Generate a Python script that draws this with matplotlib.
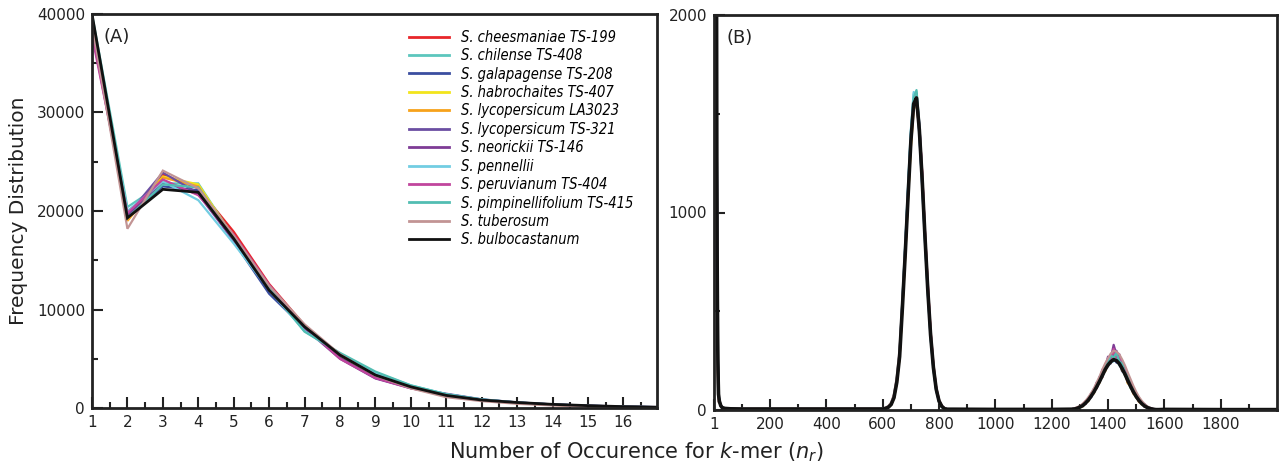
import matplotlib
matplotlib.use("Agg")
import matplotlib.pyplot as plt
from matplotlib.ticker import MultipleLocator, FixedLocator
import numpy as np

# ---------------- data ----------------
names = ["S. cheesmaniae TS-199", "S. chilense TS-408", "S. galapagense TS-208",
         "S. habrochaites TS-407", "S. lycopersicum LA3023", "S. lycopersicum TS-321",
         "S. neorickii TS-146", "S. pennellii", "S. peruvianum TS-404",
         "S. pimpinellifolium TS-415", "S. tuberosum", "S. bulbocastanum"]
colors = ["#e8262a", "#5cc6bd", "#3b4ea0", "#f2e51c", "#f7a21b", "#6b4ea2",
          "#7e3c96", "#72cde2", "#c1459d", "#52bdb2", "#c29494", "#111111"]

# Panel A: k-mer occurrence 1..17
a_x = [1, 2, 3, 4, 5, 6, 7, 8, 9, 10, 11, 12, 13, 14, 15, 16, 17]
a_red     = [39300, 19300, 23700, 22300, 17900, 12600, 8400, 5100, 3200, 2150, 1350, 830, 540, 340, 210, 120, 60]
a_chil    = [40000, 20400, 22800, 22800, 17300, 12300, 8100, 5500, 3500, 2250, 1400, 870, 560, 360, 230, 140, 80]
a_gala    = [39000, 19500, 22500, 22100, 16900, 11600, 8100, 5300, 3300, 2100, 1300, 800, 520, 330, 200, 120, 60]
a_habr    = [39600, 19100, 23500, 22700, 17300, 12100, 8300, 5400, 3300, 2100, 1300, 800, 520, 330, 210, 130, 70]
a_lyLA    = [39500, 19000, 23400, 22500, 17200, 12200, 8300, 5300, 3250, 2050, 1250, 780, 500, 320, 200, 120, 60]
a_lyTS    = [38500, 19600, 23900, 21800, 17100, 12100, 8200, 5100, 3050, 2050, 1450, 880, 570, 370, 240, 150, 90]
a_neor    = [38200, 19500, 22900, 21700, 17000, 12300, 8100, 5000, 3000, 2000, 1400, 850, 560, 360, 230, 140, 80]
a_penn    = [38800, 20000, 23000, 21100, 16700, 12000, 7800, 5500, 3600, 2300, 1400, 870, 560, 360, 230, 140, 80]
a_peru    = [37800, 19800, 23200, 21600, 17600, 12500, 8300, 5000, 3050, 2000, 1300, 820, 530, 340, 220, 130, 70]
a_pimp    = [39800, 19300, 22700, 22400, 17200, 12200, 7750, 5600, 3700, 2300, 1400, 860, 550, 350, 220, 130, 70]
a_tube    = [39000, 18200, 24100, 22300, 17500, 12400, 8500, 5450, 3300, 2000, 1100, 700, 430, 260, 150, 80, 40]
a_bulb    = [40000, 19300, 22200, 21900, 17200, 11950, 8250, 5380, 3350, 2150, 1280, 810, 560, 370, 240, 140, 80]

# Panel B: shared low-level segments
b_tail_x = [20, 25, 30, 40, 60, 100, 300, 500, 590]
b_tail_y = [45, 22, 12, 8, 6, 5, 5, 5, 5]
b_gap_x = [830, 850, 1000, 1200, 1270]
b_gap_y = [4, 4, 3, 3, 4]
b_end_x = [1580, 1600, 1800, 2000]
b_end_y = [2, 3, 2, 2]

# first peak (600..820 step 10)
p1_x = [600, 610, 620, 630, 640, 650, 660, 670, 680, 690, 700, 710, 720,
        730, 740, 750, 760, 770, 780, 790, 800, 810, 820]
p1_red  = [4, 10, 16, 32, 70, 150, 290, 540, 800, 1100, 1380, 1560, 1570, 1440, 1210, 900, 640, 400, 230, 110, 50, 20, 7]
p1_chil = [6, 9, 15, 30, 66, 146, 282, 548, 830, 1120, 1410, 1600, 1610, 1430, 1160, 870, 600, 372, 210, 100, 44, 17, 6]
p1_gala = [5, 9, 14, 29, 64, 144, 280, 540, 820, 1110, 1390, 1540, 1600, 1400, 1150, 880, 620, 390, 220, 108, 46, 19, 6]
p1_habr = [5, 8, 13, 27, 60, 138, 268, 515, 785, 1075, 1350, 1560, 1590, 1430, 1180, 890, 615, 385, 218, 106, 46, 18, 6]
p1_lyLA = [5, 8, 14, 28, 61, 139, 268, 520, 780, 1070, 1330, 1520, 1560, 1410, 1160, 875, 605, 378, 214, 104, 45, 18, 6]
p1_lyTS = [6, 10, 17, 33, 72, 155, 295, 555, 830, 1120, 1400, 1570, 1580, 1400, 1140, 860, 595, 370, 208, 100, 44, 17, 6]
p1_neor = [5, 9, 15, 30, 66, 148, 282, 530, 800, 1090, 1370, 1560, 1600, 1450, 1200, 900, 625, 392, 222, 108, 47, 19, 6]
p1_penn = [6, 11, 18, 35, 75, 160, 300, 565, 845, 1140, 1420, 1610, 1590, 1390, 1130, 850, 585, 362, 204, 98, 42, 16, 5]
p1_peru = [5, 8, 14, 28, 62, 140, 272, 525, 795, 1090, 1375, 1555, 1590, 1440, 1195, 905, 635, 398, 226, 110, 48, 19, 7]
p1_pimp = [6, 10, 16, 31, 68, 150, 288, 545, 815, 1110, 1390, 1580, 1620, 1450, 1190, 895, 620, 388, 220, 106, 46, 18, 6]
p1_tube = [7, 12, 20, 38, 80, 168, 310, 560, 825, 1100, 1360, 1530, 1550, 1420, 1190, 910, 650, 410, 236, 116, 52, 22, 8]
p1_bulb = [5, 8, 14, 28, 62, 140, 270, 520, 790, 1080, 1360, 1550, 1580, 1420, 1170, 880, 610, 380, 215, 105, 45, 18, 6]

# second peak (1280..1570 step 10)
p2_x = [1280, 1290, 1300, 1310, 1320, 1330, 1340, 1350, 1360, 1370, 1380, 1390, 1400, 1410, 1420,
        1430, 1440, 1450, 1460, 1470, 1480, 1490, 1500, 1510, 1520, 1530, 1540, 1550, 1560, 1570]
p2_red  = [6, 12, 10, 28, 30, 60, 66, 100, 110, 160, 165, 220, 230, 270, 262, 275, 240, 230, 185, 170, 120, 105, 70, 58, 34, 28, 12, 10, 4, 3]
p2_chil = [4, 8, 18, 20, 42, 46, 82, 88, 135, 140, 195, 200, 255, 250, 300, 260, 262, 205, 200, 140, 130, 85, 76, 42, 38, 18, 15, 6, 5, 2]
p2_gala = [7, 6, 16, 24, 34, 56, 64, 104, 112, 150, 185, 198, 240, 236, 268, 240, 244, 196, 188, 140, 128, 86, 74, 44, 36, 16, 14, 5, 5, 2]
p2_habr = [3, 10, 12, 26, 36, 52, 74, 90, 126, 150, 172, 222, 226, 262, 250, 270, 228, 220, 176, 160, 112, 100, 62, 54, 28, 24, 10, 9, 3, 2]
p2_lyLA = [5, 7, 16, 18, 40, 44, 78, 84, 128, 138, 188, 196, 246, 240, 290, 250, 250, 200, 192, 135, 126, 82, 72, 40, 36, 17, 14, 6, 4, 2]
p2_lyTS = [6, 12, 14, 30, 32, 62, 68, 108, 114, 168, 172, 230, 236, 282, 270, 300, 252, 240, 194, 178, 126, 110, 74, 60, 36, 30, 12, 10, 4, 3]
p2_neor = [5, 9, 18, 22, 44, 50, 84, 96, 140, 150, 204, 214, 270, 262, 330, 280, 282, 220, 214, 150, 140, 92, 80, 46, 40, 20, 16, 7, 5, 2]
p2_penn = [4, 10, 12, 24, 34, 50, 70, 88, 122, 146, 168, 210, 222, 250, 246, 262, 226, 214, 176, 158, 112, 98, 64, 52, 30, 24, 11, 9, 3, 2]
p2_peru = [6, 8, 17, 21, 40, 48, 80, 90, 132, 142, 196, 206, 258, 252, 310, 266, 270, 210, 204, 145, 134, 88, 78, 44, 38, 18, 15, 6, 5, 2]
p2_pimp = [5, 11, 13, 28, 34, 58, 72, 98, 120, 160, 178, 226, 240, 276, 266, 290, 246, 236, 190, 172, 122, 108, 70, 58, 34, 28, 12, 10, 4, 3]
p2_tube = [8, 14, 20, 32, 46, 64, 86, 110, 140, 170, 205, 236, 262, 286, 300, 296, 282, 256, 226, 190, 156, 122, 92, 66, 46, 30, 18, 11, 6, 3]
p2_bulb = [5, 8, 15, 22, 35, 50, 70, 92, 118, 145, 175, 205, 228, 245, 255, 250, 235, 210, 182, 150, 120, 92, 68, 48, 32, 20, 12, 7, 4, 2]

a_series = [a_red, a_chil, a_gala, a_habr, a_lyLA, a_lyTS, a_neor, a_penn, a_peru, a_pimp, a_tube, a_bulb]
p1_series = [p1_red, p1_chil, p1_gala, p1_habr, p1_lyLA, p1_lyTS, p1_neor, p1_penn, p1_peru, p1_pimp, p1_tube, p1_bulb]
p2_series = [p2_red, p2_chil, p2_gala, p2_habr, p2_lyLA, p2_lyTS, p2_neor, p2_penn, p2_peru, p2_pimp, p2_tube, p2_bulb]

# ---------------- figure ----------------
plt.rcParams['font.family'] = ['DejaVu Sans']
fig = plt.figure(figsize=(12.79, 4.68), dpi=100)
axA = fig.add_axes([92/1279, 60/468, 565/1279, 394/468])
axB = fig.add_axes([714/1279, 58/468, 563/1279, 395/468])

for ys, c, n in zip(a_series, colors, names):
    lw = 2.0 if c == "#111111" else 1.6
    axA.plot(a_x, ys, color=c, lw=lw, label=n, solid_joinstyle='miter')

bx = a_x + b_tail_x + p1_x + b_gap_x + p2_x + b_end_x
for ya, y1, y2, c in zip(a_series, p1_series, p2_series, colors):
    by = ya + b_tail_y + y1 + b_gap_y + y2 + b_end_y
    lw = 2.6 if c == "#111111" else 1.6
    axB.plot(bx, by, color=c, lw=lw)

# Axes A
axA.set_xlim(1, 16.95)
axA.set_ylim(0, 40000)
axA.xaxis.set_major_locator(FixedLocator(list(range(1, 17))))
axA.xaxis.set_minor_locator(MultipleLocator(0.5))
axA.yaxis.set_major_locator(MultipleLocator(10000))
axA.yaxis.set_minor_locator(MultipleLocator(5000))

# Axes B
axB.set_xlim(1, 2000)
axB.set_ylim(0, 2000)
axB.xaxis.set_major_locator(FixedLocator([1, 200, 400, 600, 800, 1000, 1200, 1400, 1600, 1800]))
axB.xaxis.set_minor_locator(FixedLocator(list(range(100, 2000, 200))))
axB.yaxis.set_major_locator(MultipleLocator(1000))
axB.yaxis.set_minor_locator(MultipleLocator(500))

for ax in (axA, axB):
    for s in ax.spines.values():
        s.set_linewidth(2.0)
        s.set_color('#222222')
    ax.tick_params(which='both', direction='in', top=False, right=False, width=1.5, colors='#222222')
    ax.tick_params(which='major', length=8, labelsize=11, pad=5)
    ax.tick_params(which='minor', length=4)
    for lab in ax.get_xticklabels() + ax.get_yticklabels():
        lab.set_color('#222222')

axA.text(0.02, 0.965, "(A)", transform=axA.transAxes, fontsize=13, va='top', ha='left', color='#222222')
axB.text(0.022, 0.965, "(B)", transform=axB.transAxes, fontsize=13, va='top', ha='left', color='#222222')

axA.set_ylabel("Frequency Distribution", fontsize=14.5, color='#222222', labelpad=6)
fig.text(636/1279, 1 - 452/468, "Number of Occurence for $k$-mer ($n_r$)", fontsize=15,
         ha='center', va='center', color='#222222')

leg = axA.legend(loc='upper left', bbox_to_anchor=(0.55, 0.975), frameon=False,
                 prop={'family': ['DejaVu Sans'], 'style': 'italic', 'stretch': 'condensed', 'size': 10.5},
                 handlelength=2.8, handletextpad=0.8, labelspacing=0.235, borderaxespad=0)
for h in leg.get_lines():
    h.set_linewidth(2.0)

fig.savefig("out.png", dpi=100)
